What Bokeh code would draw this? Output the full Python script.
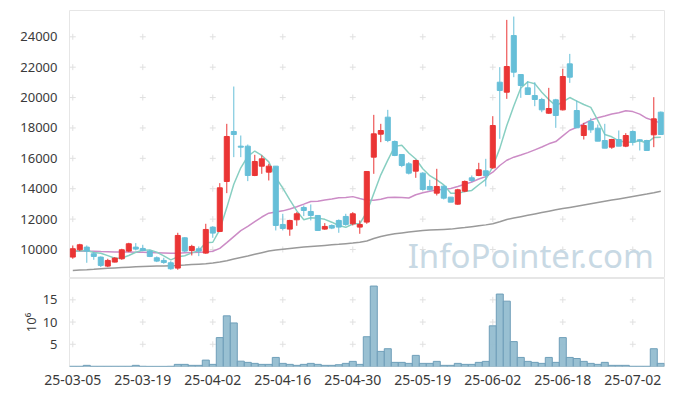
import numpy as np
from bokeh.plotting import figure
from bokeh.layouts import column
from bokeh.models import ColumnDataSource, FixedTicker, Label, Range1d
from bokeh.embed import file_html
from bokeh.resources import INLINE

dates = ["25-03-05","25-03-06","25-03-07","25-03-10","25-03-11","25-03-12","25-03-13","25-03-14","25-03-17","25-03-18",
         "25-03-19","25-03-20","25-03-21","25-03-24","25-03-25","25-03-26","25-03-27","25-03-28","25-03-31","25-04-01",
         "25-04-02","25-04-03","25-04-04","25-04-07","25-04-08","25-04-09","25-04-10","25-04-11","25-04-14","25-04-15",
         "25-04-16","25-04-17","25-04-18","25-04-21","25-04-22","25-04-23","25-04-24","25-04-25","25-04-28","25-04-29",
         "25-04-30","25-05-02","25-05-07","25-05-08","25-05-09","25-05-12","25-05-13","25-05-14","25-05-15","25-05-16",
         "25-05-19","25-05-20","25-05-21","25-05-22","25-05-23","25-05-26","25-05-27","25-05-28","25-05-29","25-05-30",
         "25-06-02","25-06-04","25-06-05","25-06-09","25-06-10","25-06-11","25-06-12","25-06-13","25-06-16","25-06-17",
         "25-06-18","25-06-19","25-06-20","25-06-23","25-06-24","25-06-25","25-06-26","25-06-27","25-06-30","25-07-01",
         "25-07-02","25-07-03","25-07-04","25-07-07","25-07-08"]

tick_labels = ["25-03-05","25-03-19","25-04-02","25-04-16","25-04-30","25-05-19","25-06-02","25-06-18","25-07-02"]
price_ticks = [10000, 12000, 14000, 16000, 18000, 20000, 22000, 24000]
volume_ticks = [5, 10, 15]

open_ = [9500, 9980, 10156, 9717, 9498, 8906, 9169, 9388, 9893, 10156, 10068, 9893, 9454, 9279, 9125, 8774, 10770, 9937, 10046, 9761,
         11472, 11187, 14476, 17766, 16800, 16800, 14871, 15485, 15090, 15485, 11647, 11340, 11954, 12765, 12502, 12239, 11340, 11581, 11910, 12173,
         11691, 11472, 11801, 16077, 17590, 18709, 17108, 16252, 15638, 15156, 15024, 14147, 13708, 14169, 13445, 12985, 13840, 14717, 14871, 15178,
         15375, 21011, 20353, 24081, 21515, 20639, 20134, 19871, 18972, 19849, 19191, 22217, 19147, 17502, 18423, 17985, 17173, 16735, 17239, 16801,
         17766, 17217, 17173, 17546, 19037]
close = [10050, 10310, 9893, 9542, 8950, 9279, 9432, 9980, 10375, 10024, 9937, 9542, 9235, 9147, 8731, 10923, 9893, 10200, 9893, 11318,
         11077, 14060, 17437, 17568, 16735, 14871, 15792, 15967, 15485, 11581, 11384, 11910, 12349, 12568, 12239, 11252, 11516, 11406, 11472, 11647,
         12349, 11647, 15134, 17612, 17831, 17173, 16187, 15529, 15024, 15858, 13950, 13928, 14147, 13379, 13116, 13928, 14476, 14542, 15244, 14871,
         18160, 20463, 22042, 21669, 20792, 20200, 19871, 19191, 19279, 18818, 21384, 21340, 18007, 18160, 17875, 17130, 16669, 17239, 16801, 17502,
         17064, 17150, 16516, 18599, 17568]
high = [10265, 10375, 10265, 9827, 9542, 9388, 9498, 10046, 10441, 10419, 10309, 9980, 9542, 9454, 9235, 11099, 10814, 10309, 10200, 11691,
        11537, 14366, 18270, 20726, 17502, 16910, 16231, 16186, 15638, 15485, 12349, 11954, 12458, 12897, 12963, 12239, 11735, 11647, 11976, 12349,
        12458, 11910, 15134, 18862, 18270, 19191, 17173, 16252, 15748, 15902, 15090, 14586, 15309, 14213, 13445, 13994, 14542, 14871, 15704, 15967,
        18774, 22000, 25112, 25331, 21515, 21077, 21011, 19981, 20639, 19915, 21888, 22875, 19805, 18336, 18643, 18226, 18270, 17283, 17831, 17656,
        17831, 17260, 17217, 20025, 19081]
low = [9388, 9893, 9125, 9322, 8840, 8840, 9147, 9322, 9827, 9937, 9893, 9498, 9169, 9059, 8665, 8665, 9827, 9607, 9563, 9717,
       10770, 11143, 13708, 16077, 16077, 14498, 14827, 14980, 14542, 11252, 11252, 10902, 11559, 12195, 11910, 11252, 11296, 11340, 11099, 11559,
       11581, 11033, 11691, 14980, 17064, 17064, 16143, 15419, 14937, 14717, 13884, 13884, 13555, 13291, 13116, 12941, 13774, 14432, 14827, 14147,
       15309, 17283, 19915, 21340, 19981, 20200, 19432, 19037, 18928, 18007, 19147, 20967, 18007, 17239, 17678, 17130, 16669, 16625, 16801, 16735,
       16845, 16516, 16516, 16735, 17568]
volume_m = [0.05, 0.05, 0.26, 0.05, 0.05, 0.05, 0.05, 0.05, 0.05, 0.26, 0.05, 0.03, 0.03, 0.03, 0.05, 0.48, 0.48, 0.26, 0.26, 1.44,
            0.48, 6.5, 11.4, 9.8, 1.2, 0.93, 0.7, 0.48, 0.48, 2.04, 0.7, 0.48, 0.26, 0.48, 0.7, 0.48, 0.26, 0.26, 0.4, 0.7,
            1.15, 0.48, 6.7, 18.1, 3.4, 4.0, 0.93, 0.93, 0.7, 2.5, 0.7, 0.7, 1.15, 0.26, 0.26, 0.7, 0.48, 0.48, 0.93, 1.15,
            9.15, 16.3, 14.7, 5.6, 2.04, 1.15, 0.93, 0.7, 2.04, 0.93, 6.5, 2.04, 1.8, 1.15, 0.7, 0.48, 0.93, 0.26, 0.26, 0.26,
            0.05, 0.05, 0.05, 4.0, 0.7]
ma5 = [9893, 9900, 9937, 9800, 9749, 9595, 9419, 9437, 9603, 9818, 9950, 9972, 9823, 9577, 9318, 9516, 9586, 9779, 9928, 10445,
       10476, 11310, 12757, 14292, 15375, 16134, 16481, 16187, 15770, 14739, 14042, 13265, 12542, 11958, 12090, 12064, 11985, 11796, 11577, 11459,
       11678, 11704, 12450, 13678, 14915, 15879, 16787, 16866, 16349, 15954, 15310, 14858, 14581, 14252, 13704, 13700, 13809, 13888, 14261, 14612,
       15459, 16656, 18156, 19441, 20625, 21033, 20915, 20345, 19867, 19472, 19709, 20002, 19766, 19542, 19353, 18502, 17568, 17415, 17143, 17068,
       17055, 17151, 17007, 17366, 17379]
ma20 = [9890, 9900, 9890, 9880, 9860, 9850, 9840, 9830, 9830, 9820, 9810, 9800, 9790, 9770, 9750, 9760, 9780, 9800, 9815, 9833,
        9884, 10072, 10449, 10850, 11239, 11519, 11837, 12136, 12392, 12470, 12542, 12660, 12816, 12987, 13163, 13179, 13260, 13320, 13399, 13416,
        13479, 13359, 13244, 13246, 13301, 13416, 13435, 13414, 13391, 13604, 13733, 13834, 13923, 13964, 14008, 14142, 14290, 14446, 14635, 14796,
        15087, 15528, 15873, 16076, 16224, 16375, 16559, 16743, 16955, 17103, 17475, 17846, 18039, 18278, 18516, 18676, 18785, 18920, 18998, 19130,
        19075, 18909, 18633, 18479, 18318]
ma_long = [8618, 8645, 8672, 8700, 8735, 8760, 8785, 8810, 8835, 8860, 8880, 8893, 8906, 8920, 8933, 8947, 8975, 9005, 9035, 9065,
           9110, 9170, 9260, 9370, 9470, 9570, 9680, 9790, 9900, 9960, 10010, 10060, 10110, 10160, 10200, 10235, 10270, 10305, 10340, 10380,
           10420, 10480, 10560, 10720, 10860, 10950, 11030, 11090, 11150, 11200, 11250, 11275, 11300, 11320, 11340, 11390, 11440, 11500, 11560, 11620,
           11700, 11820, 11970, 12070, 12160, 12250, 12340, 12430, 12520, 12610, 12690, 12770, 12850, 12930, 13010, 13090, 13170, 13250, 13330, 13410,
           13490, 13570, 13650, 13740, 13836]

UP = "#ea3535"
DOWN = "#66bfd8"
FONT = "Noto Sans"
TXT = "#3a3a3a"

idx = np.arange(len(dates))
tick_pos = [dates.index(d) for d in tick_labels]
o = np.array(open_); c = np.array(close)
colors = [UP if cc >= oo else DOWN for oo, cc in zip(open_, close)]
src = ColumnDataSource(dict(x=idx, o=o, c=c, h=high, l=low,
                            top=np.maximum(o, c), bot=np.minimum(o, c),
                            col=colors, vol=volume_m, ma5=ma5, ma20=ma20, mal=ma_long))

x_range = Range1d(-0.47, 84.53)

p = figure(width=668, height=278, x_range=x_range, y_range=Range1d(8090, 25730),
           output_backend="svg", toolbar_location=None, tools="")
p.min_border_left = 69
p.min_border_right = 4
p.min_border_top = 10
p.min_border_bottom = 0
p.xaxis.visible = False
p.grid.visible = False
p.outline_line_color = "#e6e6e6"
p.background_fill_color = "white"

gx = [x for x in tick_pos for _ in price_ticks]
gy = [y for _ in tick_pos for y in price_ticks]
p.scatter(gx, gy, marker="cross", size=6, color="#e0e0e0", line_width=1)

p.add_layout(Label(x=83.0, y=9600, text="InfoPointer.com", text_align="right", text_baseline="alphabetic",
                   text_font=FONT, text_font_size="33px", text_color="#c8d9e4"))

p.line("x", "mal", source=src, color="#9a9a9a", line_width=1.5)
p.line("x", "ma20", source=src, color="#cc8cc6", line_width=1.5)
p.line("x", "ma5", source=src, color="#88cfc2", line_width=1.5)
p.segment("x", "h", "x", "l", source=src, color="col", line_width=1)
p.vbar(x="x", top="top", bottom="bot", width=0.72, source=src, fill_color="col", line_color="col")

p.yaxis.ticker = FixedTicker(ticks=price_ticks)
p.yaxis.axis_line_color = None
p.yaxis.major_tick_line_color = None
p.yaxis.minor_tick_line_color = None
p.yaxis.major_label_standoff = 6
p.yaxis.major_label_text_font = FONT
p.yaxis.major_label_text_font_size = "13px"
p.yaxis.major_label_text_color = TXT

v = figure(width=668, height=109, x_range=x_range, y_range=Range1d(0, 19.8),
           output_backend="svg", toolbar_location=None, tools="")
v.min_border_left = 69
v.min_border_right = 4
v.min_border_top = 0
v.min_border_bottom = 0
v.grid.visible = False
v.outline_line_color = "#e6e6e6"

vx = [x for x in tick_pos for _ in volume_ticks]
vy = [y for _ in tick_pos for y in volume_ticks]
v.scatter(vx, vy, marker="cross", size=6, color="#e0e0e0", line_width=1)
v.vbar(x="x", top="vol", bottom=0, width=1.0, source=src, fill_color="#93bdd0", fill_alpha=0.95,
       line_color="#6f9fb9", line_width=1)

v.yaxis.ticker = FixedTicker(ticks=volume_ticks)
v.yaxis.axis_label = "10\u2076"
v.yaxis.axis_label_text_font = FONT
v.yaxis.axis_label_text_font_size = "13px"
v.yaxis.axis_label_text_font_style = "normal"
v.yaxis.axis_label_text_color = TXT
v.yaxis.axis_label_standoff = 0
v.yaxis.axis_line_color = None
v.yaxis.major_tick_line_color = None
v.yaxis.minor_tick_line_color = None
v.yaxis.major_label_standoff = 6
v.yaxis.major_label_text_font = FONT
v.yaxis.major_label_text_font_size = "13px"
v.yaxis.major_label_text_color = TXT

v.xaxis.ticker = FixedTicker(ticks=tick_pos)
v.xaxis.major_label_overrides = {pos: lab for pos, lab in zip(tick_pos, tick_labels)}
v.xaxis.axis_line_color = None
v.xaxis.major_tick_line_color = None
v.xaxis.minor_tick_line_color = None
v.xaxis.major_label_standoff = 2
v.xaxis.major_label_text_font = FONT
v.xaxis.major_label_text_font_size = "14px"
v.xaxis.major_label_text_color = TXT

layout = column(p, v, spacing=0)
open("out.html", "w").write(file_html(layout, INLINE))
